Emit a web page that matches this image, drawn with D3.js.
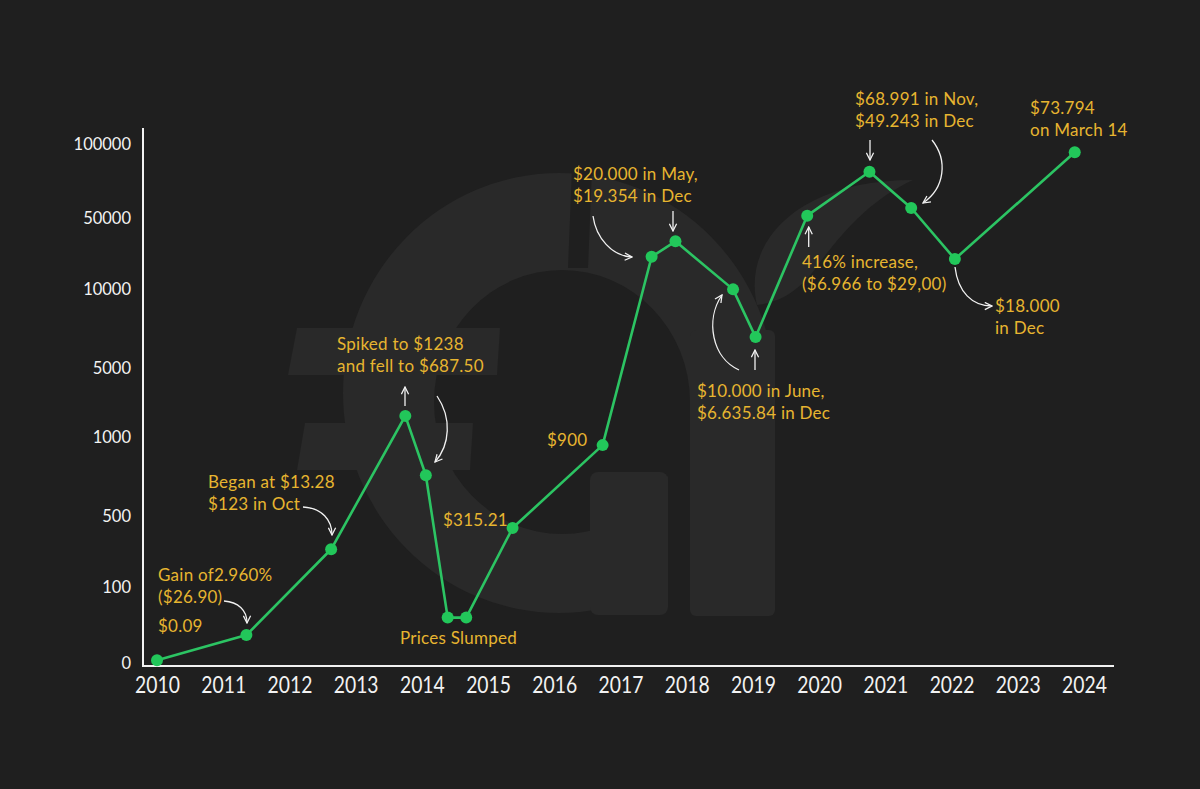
<!DOCTYPE html>
<html>
<head>
<meta charset="utf-8">
<script src="https://cdn.jsdelivr.net/npm/d3@7"></script>
<style>
  html, body { margin: 0; padding: 0; background: #1f1f1f; }
  svg { display: block; }
</style>
</head>
<body>
<svg id="chart" width="1200" height="789"></svg>
<script>
// ---------------- DATA ----------------
const yearTicks = [2010, 2011, 2012, 2013, 2014, 2015, 2016, 2017, 2018, 2019, 2020, 2021, 2022, 2023, 2024];
const priceTicks = [0, 100, 500, 1000, 5000, 10000, 50000, 100000];
const pointDates = [2010.0, 2011.35, 2012.63, 2013.75, 2014.06, 2014.39, 2014.67, 2015.37, 2016.73,
                    2017.47, 2017.83, 2018.70, 2019.04, 2019.82, 2020.76, 2021.39, 2022.05, 2023.86];
const pointPrices = [3, 36, 310, 2200, 755, 59, 59, 430, 945,
                     28100, 36800, 9970, 6960, 51500, 81200, 56700, 26800, 94300];
const noteTexts = [
  ["Began at $13.28", "$123 in Oct"],
  ["Gain of2.960%", "($26.90)"],
  ["$0.09"],
  ["Spiked to $1238", "and fell to $687.50"],
  ["$315.21"],
  ["Prices Slumped"],
  ["$900"],
  ["$20.000 in May,", "$19.354 in Dec"],
  ["$10.000 in June,", "$6.635.84 in Dec"],
  ["416% increase,", "($6.966 to $29,00)"],
  ["$68.991 in Nov,", "$49.243 in Dec"],
  ["$73.794", "on March 14"],
  ["$18.000", "in Dec"]
];

// ---------------- LAYOUT ----------------
const svg = d3.select("#chart");
const W = 1200, H = 789;
const BG = "#1f1f1f", WM = "#292929";
svg.append("rect").attr("width", W).attr("height", H).attr("fill", BG);

const x = d3.scaleLinear().domain([2010, 2024]).range([157, 1084]);
// the original axis spaces its tick values evenly-ish (not proportional): piecewise scale
const y = d3.scaleLinear().domain(priceTicks)
  .range([662.5, 586.4, 515.7, 436.4, 368, 288.9, 217.9, 143.9]);

// ---------------- WATERMARK (decorative logo) ----------------
function ellipsePath(cx, cy, rx, ry) {
  return `M${cx - rx},${cy} a${rx},${ry} 0 1,0 ${2 * rx},0 a${rx},${ry} 0 1,0 ${-2 * rx},0 Z`;
}
const wm = svg.append("g");
// big light body
wm.append("path").attr("fill", WM).attr("d", ellipsePath(559, 393, 216, 220));
// stem extends to the base line
wm.append("rect").attr("fill", WM).attr("x", 690).attr("y", 330).attr("width", 85).attr("height", 286).attr("rx", 6);
// dark inner hole
wm.append("path").attr("fill", BG).attr("d", ellipsePath(562, 402, 128, 132));
wm.append("rect").attr("fill", BG).attr("x", 560).attr("y", 400).attr("width", 130).attr("height", 72);
wm.append("rect").attr("fill", BG).attr("x", 668).attr("y", 400).attr("width", 22).attr("height", 220);
// lower-right terminal of the C
wm.append("rect").attr("fill", WM).attr("x", 590).attr("y", 472).attr("width", 78).attr("height", 143).attr("rx", 8);
// slit at top separating C and arch
wm.append("path").attr("fill", BG).attr("d", "M572,168 L592,168 L588,268 L568,268 Z");
// euro bars
wm.append("path").attr("fill", WM).attr("d", "M297,328 L500,328 L497,375 L288,375 Z");
wm.append("path").attr("fill", WM).attr("d", "M305,423 L473,423 L470,470 L297,470 Z");
// leaf
wm.append("path").attr("fill", WM)
  .attr("d", "M757,305 C742,240 800,180 913,180 C870,200 845,230 820,262 C805,285 785,302 757,305 Z");

// ---------------- AXES ----------------
const axisColor = "#f2f2f2";
svg.append("line").attr("x1", 143).attr("x2", 143).attr("y1", 128).attr("y2", 666)
  .attr("stroke", axisColor).attr("stroke-width", 2);
svg.append("line").attr("x1", 142).attr("x2", 1114).attr("y1", 666).attr("y2", 666)
  .attr("stroke", axisColor).attr("stroke-width", 2);

const yAxis = svg.append("g").attr("transform", "translate(131,0)")
  .call(d3.axisLeft(y).tickValues(priceTicks).tickSize(0).tickPadding(0).tickFormat(d3.format("d")));
yAxis.select(".domain").remove();
yAxis.selectAll("text")
  .attr("fill", axisColor).attr("font-family", "Lato, 'Open Sans', sans-serif")
  .attr("font-size", 16.5).attr("dy", "0.35em");

const xAxis = svg.append("g").attr("transform", "translate(0,677)")
  .call(d3.axisBottom(x).tickValues(yearTicks).tickSize(0).tickPadding(0).tickFormat(d3.format("d")));
xAxis.select(".domain").remove();
xAxis.selectAll("text")
  .attr("fill", axisColor).attr("font-family", "Lato, 'Open Sans', sans-serif")
  .attr("font-size", 22.5).attr("dy", "0.71em")
  .attr("transform", "scale(0.86,1)");

// ---------------- LINE + POINTS ----------------
const pts = pointDates.map((d, i) => [d, pointPrices[i]]);
svg.append("path")
  .datum(pts)
  .attr("fill", "none")
  .attr("stroke", "#2cc463")
  .attr("stroke-width", 2.6)
  .attr("stroke-linejoin", "round")
  .attr("d", d3.line().x(d => x(d[0])).y(d => y(d[1])));

svg.append("g").selectAll("circle").data(pts).join("circle")
  .attr("cx", d => x(d[0])).attr("cy", d => y(d[1])).attr("r", 6)
  .attr("fill", "#22c75a");

// ---------------- ANNOTATIONS ----------------
const noteLayout = [
  [208, 482], [158, 575], [158, 626], [337, 344], [443, 520], [400, 638],
  [547, 440], [573, 174], [697, 391], [802, 262], [855, 99], [1030, 108], [995, 306]
];
const noteG = svg.append("g")
  .attr("font-family", "Lato, 'Open Sans', sans-serif")
  .attr("font-size", 17)
  .attr("letter-spacing", 0.25)
  .attr("fill", "#e7b530");
noteTexts.forEach((lines, i) => {
  const [tx, ty] = noteLayout[i];
  const t = noteG.append("text").attr("x", tx).attr("y", ty);
  lines.forEach((ln, j) => {
    t.append("tspan").attr("x", tx).attr("dy", j === 0 ? "0.35em" : 22.5).text(ln);
  });
});

// ---------------- ARROWS ----------------
svg.append("defs").append("marker")
  .attr("id", "ah").attr("viewBox", "0 0 10 10").attr("refX", 9).attr("refY", 5)
  .attr("markerWidth", 9).attr("markerHeight", 9).attr("markerUnits", "userSpaceOnUse")
  .attr("orient", "auto")
  .append("path").attr("d", "M1,1 L9,5 L1,9").attr("fill", "none")
  .attr("stroke", "#f2f2f2").attr("stroke-width", 1.4);

const arrows = [
  "M303,507 C322,508 332,520 332,535",
  "M224,601 C238,602 247,610 247,623",
  "M405,406 L405,387",
  "M437,396 C452,418 450,445 435,462",
  "M593,216 C596,238 612,256 632,257",
  "M673,211 L673,231",
  "M739,370 C712,358 705,320 722,295",
  "M755,370 L755,350",
  "M808.7,247 L808.7,227",
  "M870,140 L870,160",
  "M932,140 C948,160 945,188 923,203",
  "M955,267 C958,292 972,306 992,306"
];
svg.append("g").selectAll("path").data(arrows).join("path")
  .attr("d", d => d).attr("fill", "none").attr("stroke", "#f2f2f2")
  .attr("stroke-width", 1.3).attr("marker-end", "url(#ah)");
</script>
</body>
</html>
